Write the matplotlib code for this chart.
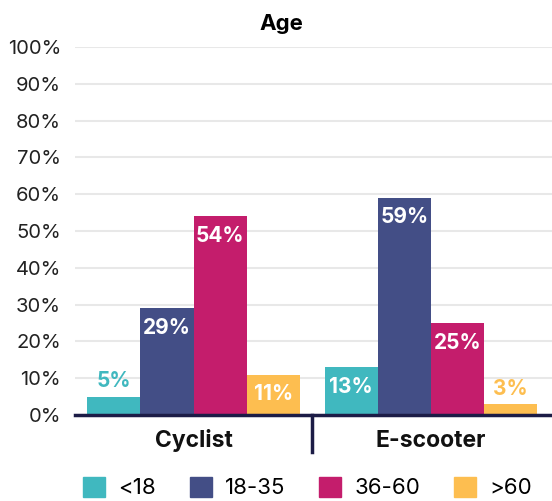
import matplotlib.pyplot as plt
import numpy as np
from matplotlib.patches import Patch

plt.rcParams['font.family'] = ['Inter', 'DejaVu Sans']

# survey shares by mode and age band
groups = ['Cyclist', 'E-scooter']
ages = ['<18', '18-35', '36-60', '>60']
under_18 = [5, 13]
age_18_35 = [29, 59]
age_36_60 = [54, 25]
over_60 = [11, 3]
series = [under_18, age_18_35, age_36_60, over_60]
colors = ['#40B8BF', '#434E86', '#C41D6C', '#FDBE50']
dark = '#1C1C46'

fig = plt.figure(figsize=(5.52, 5.01), dpi=100)
ax = fig.add_axes([75 / 552, 86 / 501, 477 / 552, 368 / 501])

x = np.arange(len(groups))
w = 0.224
for i, vals in enumerate(series):
    pos = x + (i - 1.5) * w
    ax.bar(pos, vals, width=w, color=colors[i], zorder=2)
    for p, v in zip(pos, vals):
        if v >= 8:
            ax.text(p, v - 2.6, f'{v}%', ha='center', va='top', color='white',
                    fontsize=15, fontweight='bold', zorder=3)
        else:
            ax.text(p, v + 1.4, f'{v}%', ha='center', va='bottom', color=colors[i],
                    fontsize=15, fontweight='bold', zorder=3)

ax.set_xlim(-0.5, 1.51)
ax.set_ylim(0, 100)
ax.set_yticks(np.arange(0, 101, 10))
ax.set_yticklabels([f'{t}%' for t in range(0, 101, 10)], fontsize=14.5, color='#222222')
ax.yaxis.grid(True, color='#E8E8E8', linewidth=1.5, zorder=0)
ax.tick_params(axis='y', length=0, pad=10)
ax.set_xticks([])
for s in ['top', 'right', 'left']:
    ax.spines[s].set_visible(False)
ax.spines['bottom'].set_color(dark)
ax.spines['bottom'].set_linewidth(2.5)
ax.spines['bottom'].set_zorder(4)

# group names under the axis, with a divider between them
for xi, g in zip(x, groups):
    ax.text(xi, -7, g, ha='center', va='center', fontsize=16.5, fontweight='bold',
            color='#111111', clip_on=False)
ax.plot([0.5, 0.5], [0, -10], color=dark, linewidth=2.5, clip_on=False)

fig.text(0.51, 0.953, 'Age', ha='center', va='center', fontsize=16, fontweight='bold')

handles = [Patch(color=c) for c in colors]
fig.legend(handles, ages, loc='center', bbox_to_anchor=(0.557, 0.027), ncol=4,
           frameon=False, fontsize=16, handlelength=1.0, handleheight=1.0,
           columnspacing=1.5, handletextpad=0.6)

fig.savefig('out.png', dpi=100)
